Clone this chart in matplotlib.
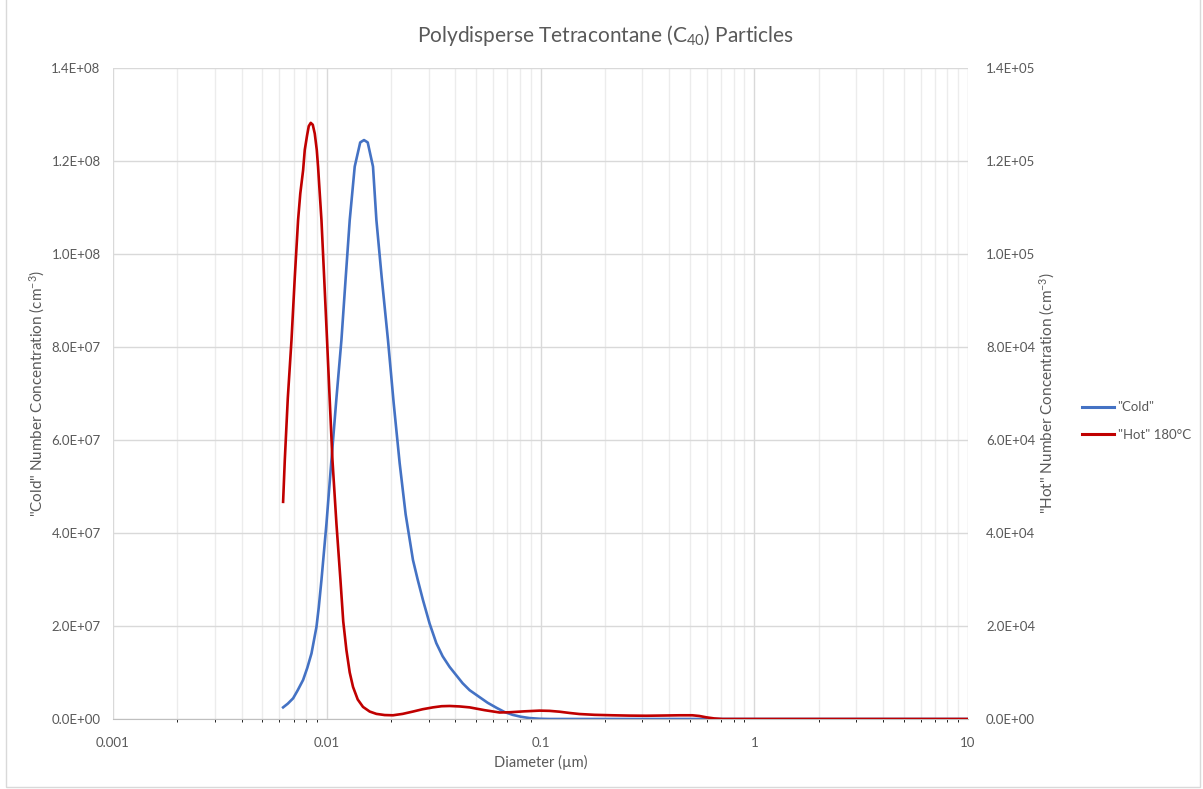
import numpy as np
import matplotlib
matplotlib.use('Agg')
import matplotlib.pyplot as plt
from matplotlib.ticker import FixedLocator, NullFormatter
from matplotlib.lines import Line2D
from matplotlib.patches import Rectangle

plt.rcParams['font.family'] = ['Lato', 'DejaVu Sans']
plt.rcParams['mathtext.fontset'] = 'custom'
plt.rcParams['mathtext.rm'] = 'Lato'
plt.rcParams['mathtext.it'] = 'Lato:italic'

# cold sample: diameter (um) vs number concentration (cm^-3)
cold_d = [0.006249, 0.006573, 0.006961, 0.007318, 0.007751, 0.008109, 0.008484,
          0.008951, 0.009175, 0.009446, 0.009968, 0.010519, 0.011100, 0.011713,
          0.012268, 0.012808, 0.013516, 0.014340, 0.014939, 0.015545, 0.016457,
          0.017071, 0.018072, 0.019339, 0.020558, 0.021934, 0.023396, 0.025312,
          0.026625, 0.028184, 0.030293, 0.032557, 0.034838, 0.037564, 0.043210,
          0.046592, 0.051873, 0.056547, 0.062304, 0.067917, 0.074000, 0.080630,
          0.088832, 0.098930, 0.11017, 0.2, 0.5, 1.0, 2.0, 5.0, 10.0]
cold_n = [0.25e7, 0.33e7, 0.445e7, 0.62e7, 0.84e7, 1.1e7, 1.41e7,
          1.98e7, 2.4e7, 2.99e7, 4.2e7, 5.57e7, 6.9e7, 8.15e7,
          9.5e7, 10.73e7, 11.88e7, 12.4e7, 12.45e7, 12.4e7, 11.88e7,
          10.73e7, 9.5e7, 8.15e7, 6.8e7, 5.5e7, 4.4e7, 3.42e7,
          3.0e7, 2.56e7, 2.05e7, 1.63e7, 1.35e7, 1.12e7, 0.77e7,
          0.62e7, 0.47e7, 0.35e7, 0.24e7, 0.15e7, 0.09e7, 0.05e7,
          0.02e7, 0.005e7, 0.0, 0.0, 0.0, 0.0, 0.0, 0.0, 0.0]

# hot sample (180 C)
hot_d = [0.006249, 0.006364, 0.006573, 0.006840, 0.007087, 0.007343, 0.007519,
         0.007751, 0.007892, 0.008090, 0.008239, 0.008418, 0.008601, 0.008788,
         0.008980, 0.009106, 0.009274, 0.009446, 0.009735, 0.010032, 0.010328,
         0.010633, 0.011100, 0.011589, 0.011943, 0.012361, 0.012808, 0.013271,
         0.013960, 0.014778, 0.015883, 0.017071, 0.018664, 0.020410, 0.022653,
         0.025312, 0.028093, 0.031388, 0.034465, 0.037564, 0.041836, 0.046592,
         0.054740, 0.064334, 0.071646, 0.084179, 0.098930, 0.11017, 0.12268,
         0.13662, 0.15214, 0.17880, 0.21700, 0.26058, 0.31287, 0.37970,
         0.44620, 0.51318, 0.55332, 0.59685, 0.65027, 0.70878, 1.0, 2.0,
         5.0, 10.0]
hot_n = [4.67e4, 5.57e4, 6.9e4, 8.15e4, 9.5e4, 10.73e4, 11.3e4,
         11.8e4, 12.24e4, 12.55e4, 12.75e4, 12.82e4, 12.78e4, 12.59e4,
         12.24e4, 11.88e4, 11.3e4, 10.73e4, 9.45e4, 8.15e4, 6.85e4,
         5.57e4, 4.2e4, 2.99e4, 2.1e4, 1.48e4, 1.0e4, 0.69e4,
         0.42e4, 0.26e4, 0.16e4, 0.11e4, 0.085e4, 0.08e4, 0.11e4,
         0.16e4, 0.21e4, 0.25e4, 0.275e4, 0.28e4, 0.27e4, 0.25e4,
         0.19e4, 0.14e4, 0.145e4, 0.165e4, 0.18e4, 0.175e4, 0.157e4,
         0.13e4, 0.107e4, 0.09e4, 0.08e4, 0.073e4, 0.07e4, 0.075e4,
         0.08e4, 0.08e4, 0.065e4, 0.036e4, 0.012e4, 0.0, 0.0, 0.0,
         0.0, 0.0]

x_ticks = [0.001, 0.01, 0.1, 1, 10]
x_tick_labels = ['0.001', '0.01', '0.1', '1', '10']
cold_ticks = np.arange(0, 1.41e8, 2e7)
hot_ticks = np.arange(0, 1.41e5, 2e4)

txt = '#595959'
fig = plt.figure(figsize=(12.03, 7.89), dpi=100)
ax = fig.add_axes([113 / 1203, 70 / 789, 855 / 1203, 651 / 789])
ax2 = ax.twinx()

ax.set_xscale('log')
ax.set_xlim(0.001, 10)
ax.set_ylim(0, 1.4e8)
ax2.set_ylim(0, 1.4e5)

ax.xaxis.set_major_locator(FixedLocator(x_ticks))
ax.set_xticklabels(x_tick_labels)
minors = [m * 10.0 ** e for e in range(-3, 1) for m in range(2, 10)]
ax.xaxis.set_minor_locator(FixedLocator(minors))
ax.xaxis.set_minor_formatter(NullFormatter())
ax.set_yticks(cold_ticks)
ax.set_yticklabels(['{:.1E}'.format(v) for v in cold_ticks])
ax2.set_yticks(hot_ticks)
ax2.set_yticklabels(['{:.1E}'.format(v) for v in hot_ticks])

ax.grid(True, which='major', color='#d9d9d9', lw=1.0)
ax.grid(True, which='minor', axis='x', color='#ececec', lw=1.0)
ax.set_axisbelow(True)

for a in (ax, ax2):
    for s in a.spines.values():
        s.set_visible(False)
    a.tick_params(length=0, colors=txt, labelsize=9.5)
ax.spines['bottom'].set_visible(True)
ax.spines['bottom'].set_color('#bfbfbf')
ax.tick_params(axis='x', pad=13)
ax.tick_params(axis='y', pad=9)
ax2.tick_params(axis='y', pad=13)

ax.plot(cold_d, cold_n, color='#4472C4', lw=1.9, solid_joinstyle='round')
ax2.plot(hot_d, hot_n, color='#C00000', lw=1.9, solid_joinstyle='round')

ax.set_xlabel('Diameter (µm)', color=txt, fontsize=10.5, va='center')
ax.xaxis.set_label_coords(0.5, -43 / 651)
ax.set_ylabel('"Cold" Number Concentration (cm$^{-3}$)', color=txt, fontsize=11,
              va='center', ha='center')
ax.yaxis.set_label_coords(-76 / 855, 0.5)
ax2.set_ylabel('"Hot" Number Concentration (cm$^{-3}$)', color=txt, fontsize=11,
               va='center', ha='center', rotation=90)
ax2.yaxis.set_label_coords(1 + 79 / 855, 0.5)
fig.text(0.5035, 1 - 36 / 789, 'Polydisperse Tetracontane (C$_{40}$) Particles',
         ha='center', va='center', color=txt, fontsize=15)

handles = [Line2D([], [], color='#4472C4', lw=2.2),
           Line2D([], [], color='#C00000', lw=2.2)]
fig.legend(handles, ['"Cold"', '"Hot" 180°C'], loc='center left',
           bbox_to_anchor=(1070 / 1203, 1 - 421 / 789), frameon=False,
           fontsize=9.5, labelcolor=txt, handlelength=2.4, handletextpad=0.3,
           labelspacing=1.15)

# chart border
fig.patches.append(Rectangle((6 / 1203, 2 / 789), 1194 / 1203, 1.0, transform=fig.transFigure,
                             fill=False, edgecolor='#d9d9d9', lw=1.0))

fig.savefig('out.png', dpi=100, facecolor='white')
